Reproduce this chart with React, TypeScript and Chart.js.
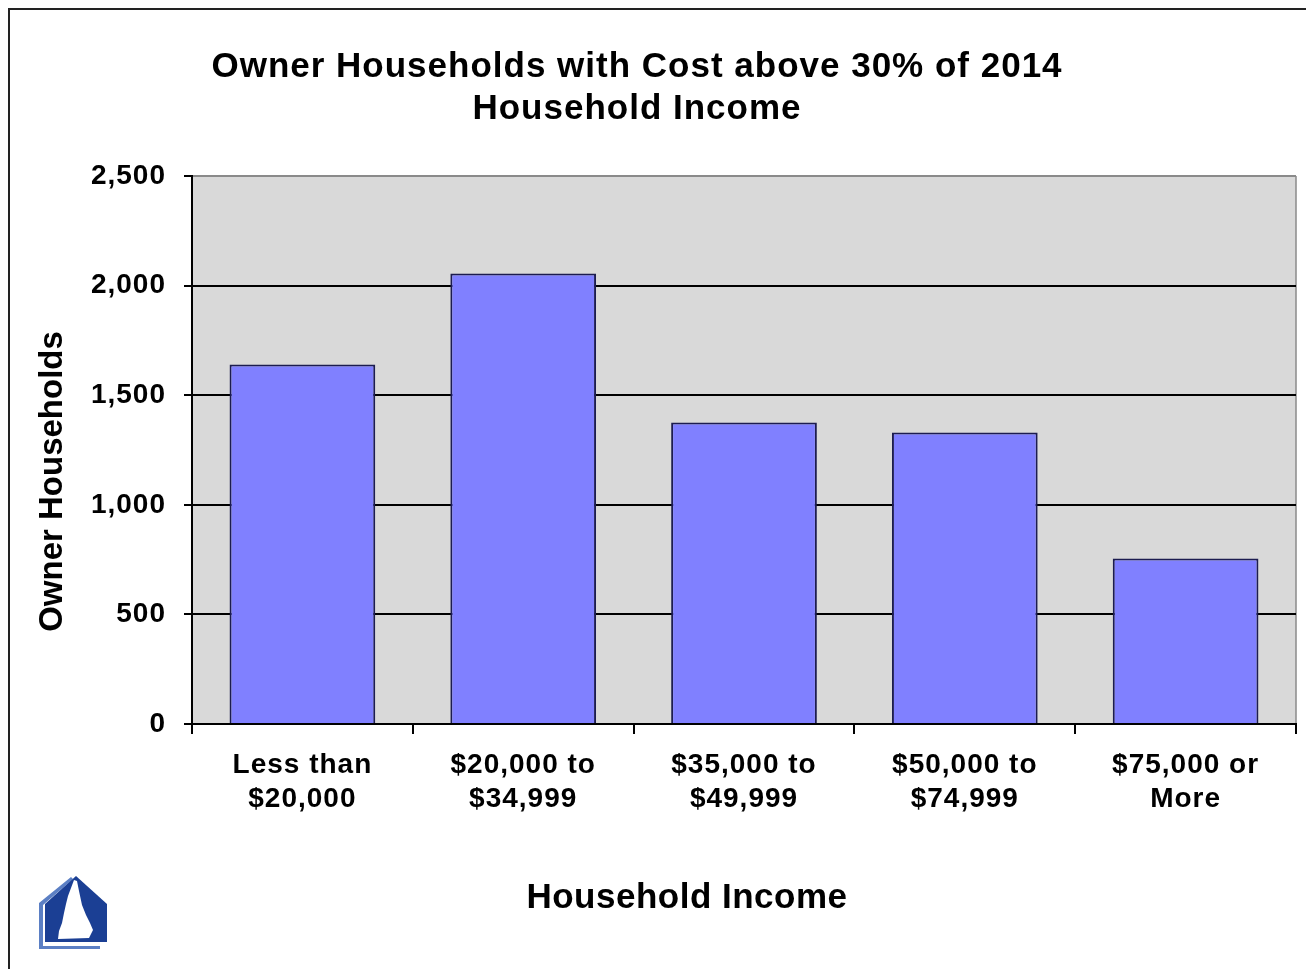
import React, { useEffect, useRef } from "react";
import { Chart, registerables } from "chart.js";

Chart.register(...registerables);

const categories: string[][] = [
  ["Less than", "$20,000"],
  ["$20,000 to", "$34,999"],
  ["$35,000 to", "$49,999"],
  ["$50,000 to", "$74,999"],
  ["$75,000 or", "More"],
];
const ownerHouseholds: number[] = [1640, 2055, 1375, 1330, 755];
const yTicks: number[] = [0, 500, 1000, 1500, 2000, 2500];
const chartTitle: string[] = ["Owner Households with Cost above 30% of 2014", "Household Income"];
const xTitle = "Household Income";
const yTitle = "Owner Households";

const FONT = '"Liberation Sans", Arial, sans-serif';

const decor = {
  id: "decor",
  beforeLayout(chart: any) {
    chart.ctx.letterSpacing = "1px";
  },
  beforeDraw(chart: any) {
    const { ctx, chartArea: a } = chart;
    ctx.save();
    ctx.fillStyle = "#D9D9D9";
    ctx.fillRect(a.left, a.top, a.right - a.left, a.bottom - a.top);
    ctx.strokeStyle = "#8a8a8a";
    ctx.lineWidth = 1.5;
    ctx.beginPath();
    ctx.moveTo(a.right, a.top);
    ctx.lineTo(a.right, a.bottom);
    ctx.stroke();
    ctx.restore();
    ctx.letterSpacing = "1px";
  },
  afterDraw(chart: any) {
    const ctx: CanvasRenderingContext2D = chart.ctx;
    ctx.save();
    ctx.fillStyle = "#000";
    // main title
    ctx.font = `bold 35px ${FONT}`;
    (ctx as any).letterSpacing = "1px";
    ctx.textAlign = "center";
    ctx.textBaseline = "alphabetic";
    ctx.fillText(chartTitle[0], 627, 67);
    ctx.fillText(chartTitle[1], 627, 109);
    // x title
    (ctx as any).letterSpacing = "0.5px";
    ctx.fillText(xTitle, 677, 898);
    // y title
    ctx.font = `bold 33px ${FONT}`;
    (ctx as any).letterSpacing = "0px";
    ctx.translate(52, 471.5);
    ctx.rotate(-Math.PI / 2);
    ctx.fillText(yTitle, 0, 0);
    ctx.restore();

    // logo
    ctx.save();
    ctx.fillStyle = "#5B7FC4";
    ctx.beginPath();
    ctx.moveTo(29, 893);
    ctx.lineTo(61, 867);
    ctx.lineTo(63, 869);
    ctx.lineTo(33, 895);
    ctx.lineTo(33, 936);
    ctx.lineTo(90, 936);
    ctx.lineTo(90, 939);
    ctx.lineTo(29, 939);
    ctx.closePath();
    ctx.fill();
    ctx.fillStyle = "#1B3F94";
    ctx.beginPath();
    ctx.moveTo(66, 866);
    ctx.lineTo(97, 894);
    ctx.lineTo(97, 932);
    ctx.lineTo(35, 932);
    ctx.lineTo(35, 894);
    ctx.closePath();
    ctx.fill();
    ctx.fillStyle = "#fff";
    ctx.beginPath();
    ctx.moveTo(64, 870);
    ctx.lineTo(67, 871);
    ctx.lineTo(69, 881);
    ctx.lineTo(72, 895);
    ctx.lineTo(76, 905);
    ctx.lineTo(80, 913);
    ctx.lineTo(83, 920);
    ctx.lineTo(79, 928);
    ctx.lineTo(48, 929);
    ctx.lineTo(49, 921);
    ctx.lineTo(52, 913);
    ctx.lineTo(54, 903);
    ctx.lineTo(56, 894);
    ctx.lineTo(58, 886);
    ctx.lineTo(61, 878);
    ctx.closePath();
    ctx.fill();
    ctx.restore();
  },
};

export default function App() {
  const ref = useRef<HTMLCanvasElement | null>(null);
  useEffect(() => {
    if (!ref.current) return;
    const yFont = { family: FONT, size: 28, weight: "bold" as const, lineHeight: 1.1 };
    const xFont = { family: FONT, size: 28, weight: "bold" as const, lineHeight: 1.22 };
    const chart = new Chart(ref.current, {
      type: "bar",
      data: {
        labels: categories,
        datasets: [
          {
            data: ownerHouseholds,
            backgroundColor: "#8080FF",
            borderColor: "#1C1C50",
            borderWidth: 2,
            barPercentage: 0.66,
            categoryPercentage: 1,
          },
        ],
      },
      options: {
        responsive: false,
        animation: false,
        devicePixelRatio: 1,
        layout: { padding: { top: 166, right: 10, left: 0, bottom: 0 } },
        plugins: { legend: { display: false }, tooltip: { enabled: false }, title: { display: false } },
        scales: {
          x: {
            offset: true,
            grid: { offset: true, drawOnChartArea: false, drawTicks: true, tickLength: 10, color: "#000", lineWidth: 2 },
            border: { display: true, color: "#000", width: 2 },
            ticks: { font: xFont, color: "#000", padding: 14, maxRotation: 0, autoSkip: false },
            afterFit(s: any) {
              s.height = 245;
            },
          },
          y: {
            min: 0,
            max: 2500,
            afterBuildTicks(s: any) {
              s.ticks = yTicks.map((v) => ({ value: v }));
            },
            grid: {
              color: (c: any) => (c.tick && c.tick.value === 2500 ? "#8a8a8a" : "#000"),
              lineWidth: 2,
              tickLength: 8,
              tickColor: "#000",
              drawTicks: true,
            },
            border: { display: true, color: "#000", width: 2 },
            ticks: {
              font: yFont,
              color: "#000",
              padding: 18,
              callback: (v: any) => Number(v).toLocaleString("en-US"),
            },
            afterFit(s: any) {
              s.width = 182;
            },
          },
        },
      },
      plugins: [decor],
    });
    return () => chart.destroy();
  }, []);
  return (
    <div
      style={{
        position: "fixed",
        left: 8,
        top: 8,
        width: 1298,
        height: 961,
        borderTop: "2px solid #222",
        borderLeft: "2px solid #222",
        boxSizing: "border-box",
        background: "#fff",
      }}
    >
      <canvas ref={ref} width={1296} height={959} style={{ display: "block", width: 1296, height: 959 }} />
    </div>
  );
}
